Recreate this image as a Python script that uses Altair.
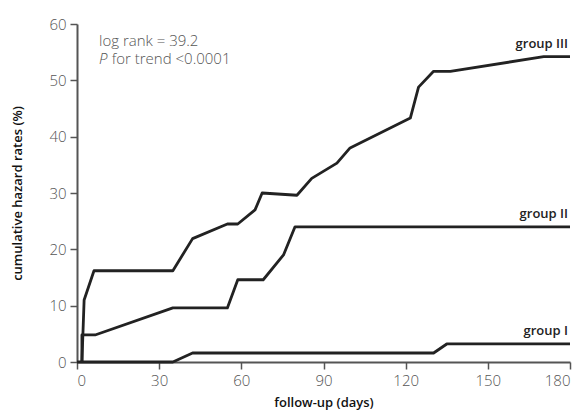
import altair as alt
import pandas as pd

# Data
g1_days = [0, 35, 42.2, 130.2, 135, 180]
g1_vals = [0, 0, 1.6, 1.6, 3.2, 3.2]

g2_days = [1.8, 1.8, 6.6, 35, 54.9, 58.7, 68, 75.4, 79.6, 180]
g2_vals = [0, 4.8, 4.8, 9.6, 9.6, 14.6, 14.6, 19, 24, 24]

g3_days = [1.8, 2.6, 6.2, 35, 42.2, 54.9, 58.7, 65, 67.6, 80.3, 85.7, 94.9, 99.7, 121.7, 124.7, 130.2, 136.3, 170.4, 180]
g3_vals = [0, 11, 16.2, 16.2, 21.9, 24.5, 24.5, 27, 30, 29.6, 32.6, 35.3, 38, 43.3, 48.8, 51.6, 51.6, 54.2, 54.2]

groups = ["group I", "group II", "group III"]
x_ticks = [0, 30, 60, 90, 120, 150, 180]
y_ticks = [0, 10, 20, 30, 40, 50, 60]

rows = []
for name, ds, vs in zip(groups, [g1_days, g2_days, g3_days], [g1_vals, g2_vals, g3_vals]):
    for i, (d, v) in enumerate(zip(ds, vs)):
        rows.append({"group": name, "day": d, "value": v, "idx": i})
df = pd.DataFrame(rows)
last = df.sort_values("idx").groupby("group").tail(1)

FONT = "Open Sans"

x = alt.X("day:Q", scale=alt.Scale(domain=[0, 180], nice=False),
          axis=alt.Axis(values=x_ticks, title="follow-up (days)", grid=False,
                        labelFont=FONT, labelFontSize=15, labelFontWeight=300, labelColor="#555",
                        titleFont=FONT, titleFontSize=13, titleFontWeight=600, titleColor="#111",
                        titlePadding=8, tickSize=7, tickColor="#555", domainColor="#555",
                        domainWidth=2, tickWidth=1.5, labelPadding=4))
y = alt.Y("value:Q", scale=alt.Scale(domain=[0, 60], nice=False),
          axis=alt.Axis(values=y_ticks, title="cumulative hazard rates (%)", grid=False,
                        labelFont=FONT, labelFontSize=15, labelFontWeight=300, labelColor="#555",
                        titleFont=FONT, titleFontSize=13, titleFontWeight=600, titleColor="#111",
                        titlePadding=24, tickSize=7, tickColor="#555", domainColor="#555",
                        domainWidth=2, tickWidth=1.5, labelPadding=4))

lines = alt.Chart(df).mark_line(color="#222", strokeWidth=2.8, strokeJoin="round").encode(
    x=x, y=y, detail="group:N", order="idx:Q"
)

labels = alt.Chart(last).mark_text(align="right", baseline="bottom", dy=-6, dx=-2,
                                   font=FONT, fontSize=13, fontWeight=600, color="#222").encode(
    x="day:Q", y="value:Q", text="group:N"
)

ann1 = alt.Chart(pd.DataFrame({"t": ["log rank = 39.2"]})).mark_text(
    align="left", baseline="alphabetic", font=FONT, fontSize=15, fontWeight=300, color="#555").encode(
    x=alt.value(22), y=alt.value(21.7), text="t:N")
ann2 = alt.Chart(pd.DataFrame({"t": ["P"]})).mark_text(
    align="left", baseline="alphabetic", font=FONT, fontSize=15, fontWeight=300, fontStyle="italic", color="#555").encode(
    x=alt.value(22), y=alt.value(40.3), text="t:N")
ann3 = alt.Chart(pd.DataFrame({"t": ["for trend <0.0001"]})).mark_text(
    align="left", baseline="alphabetic", font=FONT, fontSize=15, fontWeight=300, color="#555").encode(
    x=alt.value(34.7), y=alt.value(40.3), text="t:N")

chart = alt.layer(lines, labels, ann1, ann2, ann3).properties(
    width=493, height=338,
    autosize=alt.AutoSizeParams(type="none"),
    padding={"left": 77, "top": 24, "right": 12, "bottom": 49},
    background="white",
).configure_view(stroke=None)

chart.save("out.html", embed_options={"renderer": "svg", "actions": False})
